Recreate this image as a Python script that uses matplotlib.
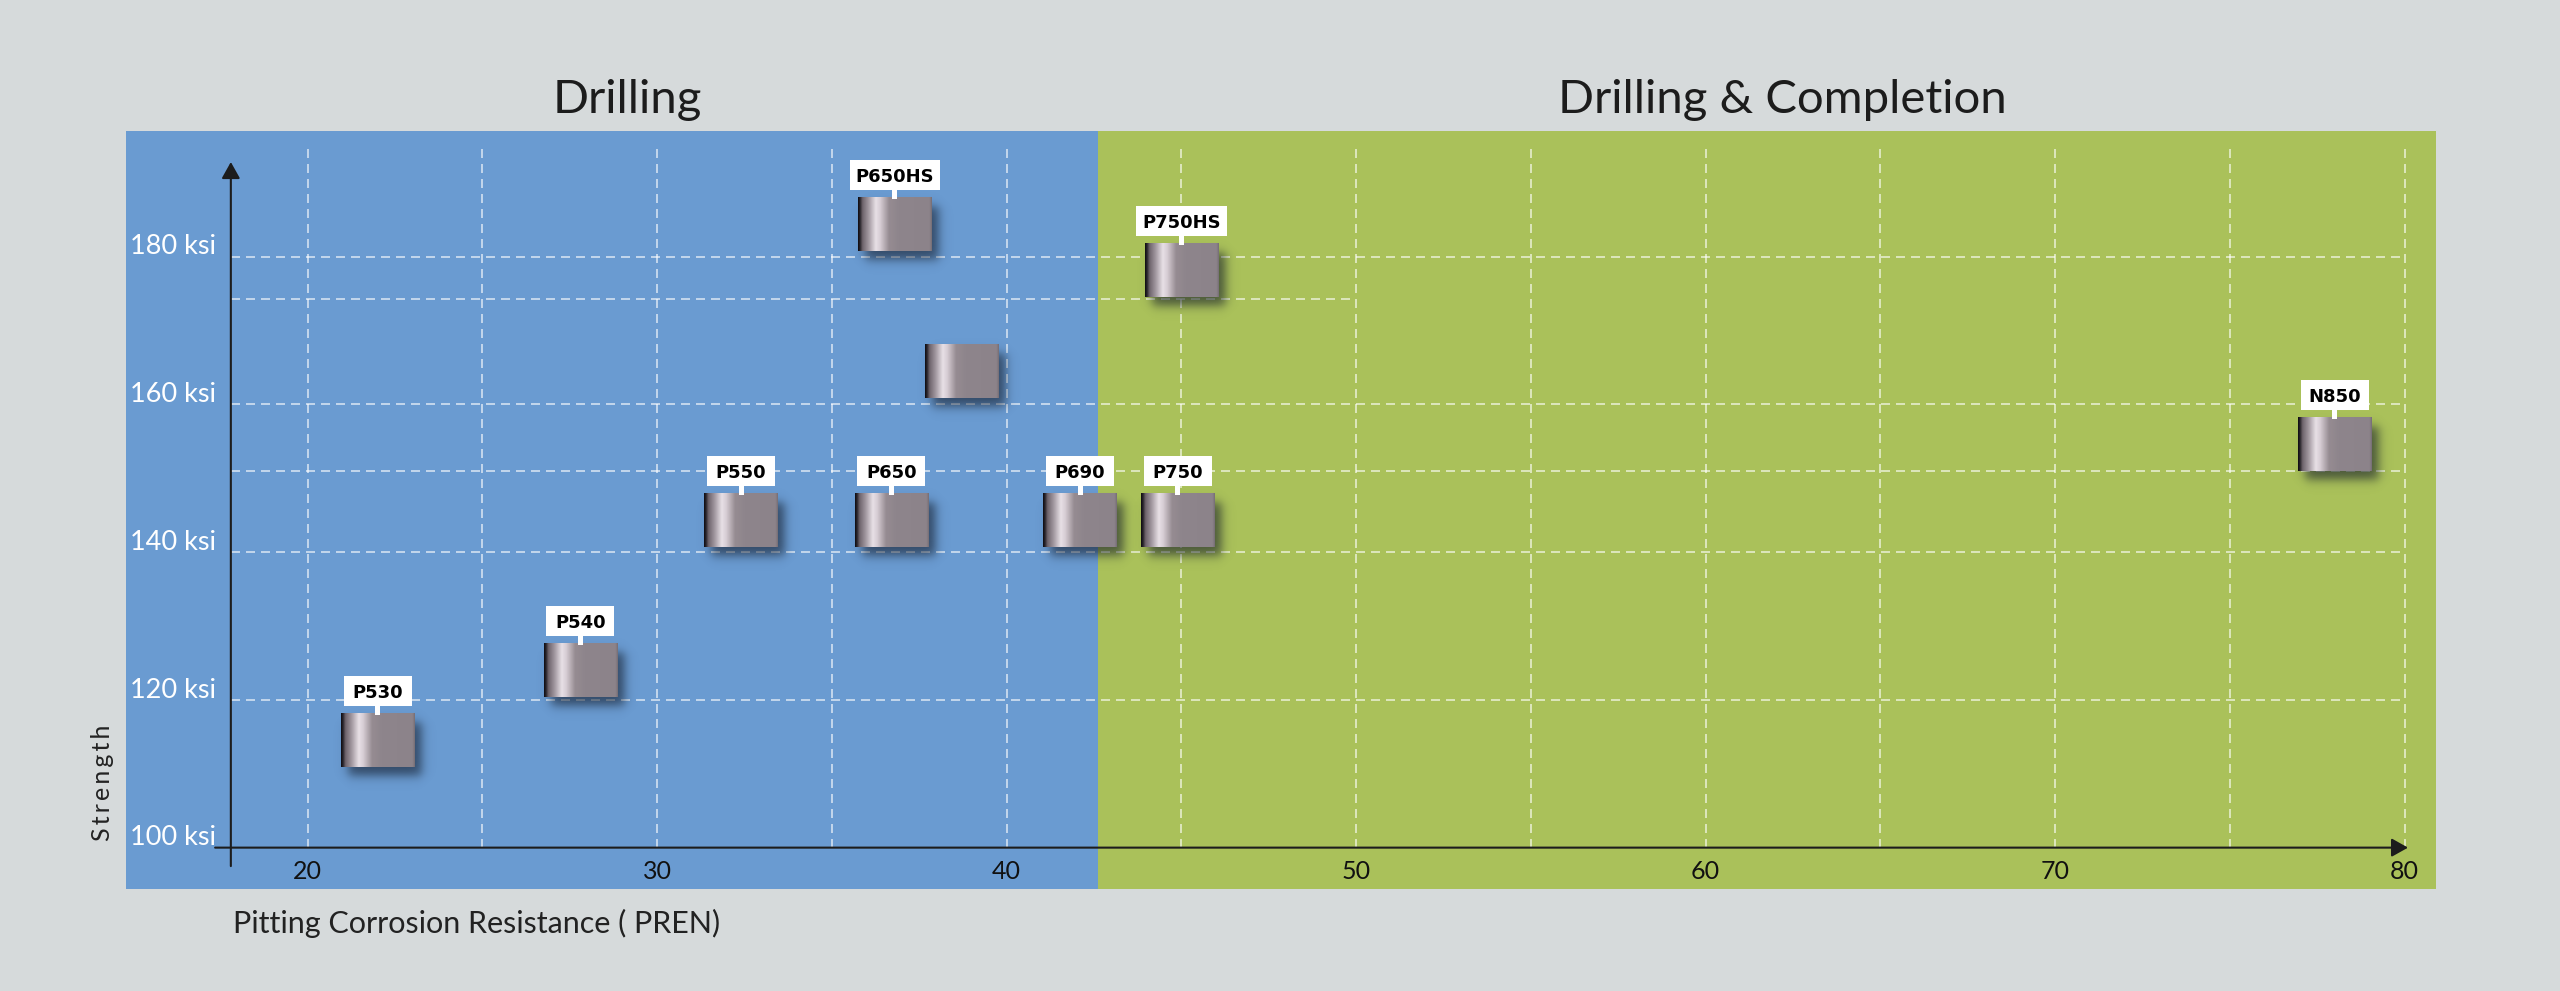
import numpy as np
import matplotlib
matplotlib.use("Agg")
import matplotlib.pyplot as plt
from matplotlib.patches import Rectangle
from matplotlib.transforms import IdentityTransform, offset_copy, blended_transform_factory

# ---- data ----
grades = ["P530", "P540", "P550", "P650", "P650HS", "", "P690", "P750", "P750HS", "N850"]
pren = [22.0, 27.8, 32.4, 36.7, 36.8, 38.7, 42.1, 44.9, 45.0, 78.0]
strength = [114.5, 124.0, 144.3, 144.3, 184.3, 164.4, 144.3, 144.3, 178.1, 154.6]

region_names = ["Drilling", "Drilling & Completion"]
region_edges = [14.8, 42.6, 80.9]

x_ticks = [20, 30, 40, 50, 60, 70, 80]
y_ticks = [100, 120, 140, 160, 180]
x_grid = [20, 25, 30, 35, 40, 45, 50, 55, 60, 65, 70, 75, 80]
y_grid = [120, 140, 151, 160, 180]
y_grid_short = [174.3]
y_grid_short_end = 50

# ---- styles ----
BG = "#d6dadb"
BLUE = "#6a9bd1"
GREEN = "#aac15a"
DARK = "#1c1c1c"
BOX_W = 2.1      # PREN units
BOX_H = 7.2      # ksi
FONT = ["Lato", "DejaVu Sans"]

fig = plt.figure(figsize=(25.6, 9.91), dpi=100, facecolor=BG)
W, H = 2560, 991
ax = fig.add_axes([126 / W, (H - 889) / H, (2436 - 126) / W, (889 - 131) / H])
ax.set_autoscale_on(False)
ax.set_xlim(region_edges[0], region_edges[-1])
ax.set_ylim(94.4, 197.0)
ax.axis("off")

# region backgrounds + titles
for name, x0, x1, col in zip(region_names, region_edges[:-1], region_edges[1:], [BLUE, GREEN]):
    ax.axvspan(x0, x1, color=col, zorder=0, lw=0)
    tr = offset_copy(blended_transform_factory(ax.transData, ax.transAxes), fig=fig,
                     x=11, y=22, units="points")
    ax.text((x0 + x1) / 2, 1.0, name, transform=tr, ha="center", va="center",
            fontsize=34, color=DARK, family=FONT)

# dashed grid
grid_kw = dict(color="white", alpha=0.7, lw=1.2, linestyles=(0, (5.4, 3.6)), zorder=1)
ax.vlines(x_grid, 100, 194.8, **grid_kw)
ax.hlines(y_grid, 17.8, 80, **grid_kw)
ax.hlines(y_grid_short, 17.8, y_grid_short_end, **grid_kw)

# axes arrows
arrow_kw = dict(arrowstyle="-|>,head_length=0.5,head_width=0.28", color=DARK, lw=1.5,
                shrinkA=0, shrinkB=0, mutation_scale=20)
ax.annotate("", xy=(17.8, 192.8), xytext=(17.8, 97.5), arrowprops=arrow_kw, zorder=2)
ax.annotate("", xy=(80.1, 100), xytext=(17.35, 100), arrowprops=arrow_kw, zorder=2)

# tick labels
xt = offset_copy(ax.transData, fig=fig, x=0, y=-17, units="points")
for v in x_ticks:
    ax.text(v, 100, str(v), transform=xt, ha="center", va="center",
            fontsize=18, color="#111111", family=FONT)
yt = offset_copy(ax.transData, fig=fig, x=-11, y=7, units="points")
for v in y_ticks:
    ax.text(17.8, v, f"{v} ksi", transform=yt, ha="right", va="center",
            fontsize=19.5, color="white", family=FONT)

# axis titles
ax.text(17.85, 0.0, "Pitting Corrosion Resistance ( PREN)",
        transform=offset_copy(blended_transform_factory(ax.transData, ax.transAxes),
                              fig=fig, x=0, y=-25, units="points"),
        ha="left", va="center", fontsize=22, color="#222222", family=FONT)
ax.text(0.0, 0.14, "\u2009".join("Strength"),
        transform=offset_copy(ax.transAxes, fig=fig, x=-17, y=0, units="points"),
        ha="center", va="center", rotation=90, fontsize=18, color="#222222", family=FONT)

# metallic cylinder gradient
stops = [(0.00, (15, 12, 18)), (0.025, (40, 36, 42)), (0.06, (110, 100, 108)),
         (0.14, (160, 150, 158)), (0.24, (232, 224, 230)), (0.30, (215, 205, 212)),
         (0.42, (150, 140, 146)), (0.55, (142, 133, 140)), (0.97, (140, 131, 138)),
         (1.00, (118, 110, 117))]
gx = np.linspace(0, 1, 200)
pos = [s[0] for s in stops]
grad = np.stack([np.interp(gx, pos, [s[1][c] for s in stops]) for c in range(3)], axis=-1) / 255
cyl_img = np.repeat(grad[None, :, :], 4, axis=0)

# shadow parameters (pixels -> data)
px_x = 2310 / (region_edges[-1] - region_edges[0])
px_y = 758 / (197.0 - 94.4)
sh_dx, sh_dy, sh_s = 7 / px_x, -9 / px_y, 6.0

for cx, cy in zip(pren, strength):
    x0, x1 = cx - BOX_W / 2 + sh_dx, cx + BOX_W / 2 + sh_dx
    y0, y1 = cy - BOX_H / 2 + sh_dy, cy + BOX_H / 2 + sh_dy
    mx, my = 4 * sh_s / px_x, 4 * sh_s / px_y
    xs = np.linspace(x0 - mx, x1 + mx, 120)
    ys = np.linspace(y1 + my, y0 - my, 100)
    fx = 0.5 * (np.tanh((xs - x0) * px_x / sh_s) - np.tanh((xs - x1) * px_x / sh_s))
    fy = 0.5 * (np.tanh((ys - y0) * px_y / sh_s) - np.tanh((ys - y1) * px_y / sh_s))
    sh = np.zeros((len(ys), len(xs), 4))
    sh[..., 0:3] = np.array([18, 26, 40]) / 255
    sh[..., 3] = 0.62 * fy[:, None] * fx[None, :]
    ax.imshow(sh, extent=[xs[0], xs[-1], ys[-1], ys[0]], aspect="auto",
              interpolation="bilinear", zorder=3)
    ax.imshow(cyl_img, extent=[cx - BOX_W / 2, cx + BOX_W / 2, cy - BOX_H / 2, cy + BOX_H / 2],
              aspect="auto", interpolation="bilinear", zorder=4)

# labels (white tag + stem)
renderer = fig.canvas.get_renderer()
STEM_H, STEM_W, TAG_H, TAG_MIN_W, TAG_PAD = 8, 5, 30, 68, 6
for lab, cx, cy in zip(grades, pren, strength):
    if not lab:
        continue
    top = cy + BOX_H / 2
    X, Y = ax.transData.transform((cx, top))
    t = ax.text(cx, top, lab, ha="center", va="baseline", fontsize=13, fontweight="bold",
                family="DejaVu Sans", color="black", zorder=7,
                transform=offset_copy(ax.transData, fig=fig, x=0, y=(STEM_H + 8.0) * 0.72,
                                      units="points"))
    tw = t.get_window_extent(renderer).width
    w = max(TAG_MIN_W, tw + 2 * TAG_PAD)
    ax.add_artist(Rectangle((X - STEM_W / 2, Y - 1), STEM_W, STEM_H + 2, transform=IdentityTransform(),
                            facecolor="white", edgecolor="none", zorder=5))
    ax.add_artist(Rectangle((X - w / 2, Y + STEM_H), w, TAG_H, transform=IdentityTransform(),
                            facecolor="white", edgecolor="none", zorder=6))

fig.savefig("out.png", dpi=100, facecolor=BG)
